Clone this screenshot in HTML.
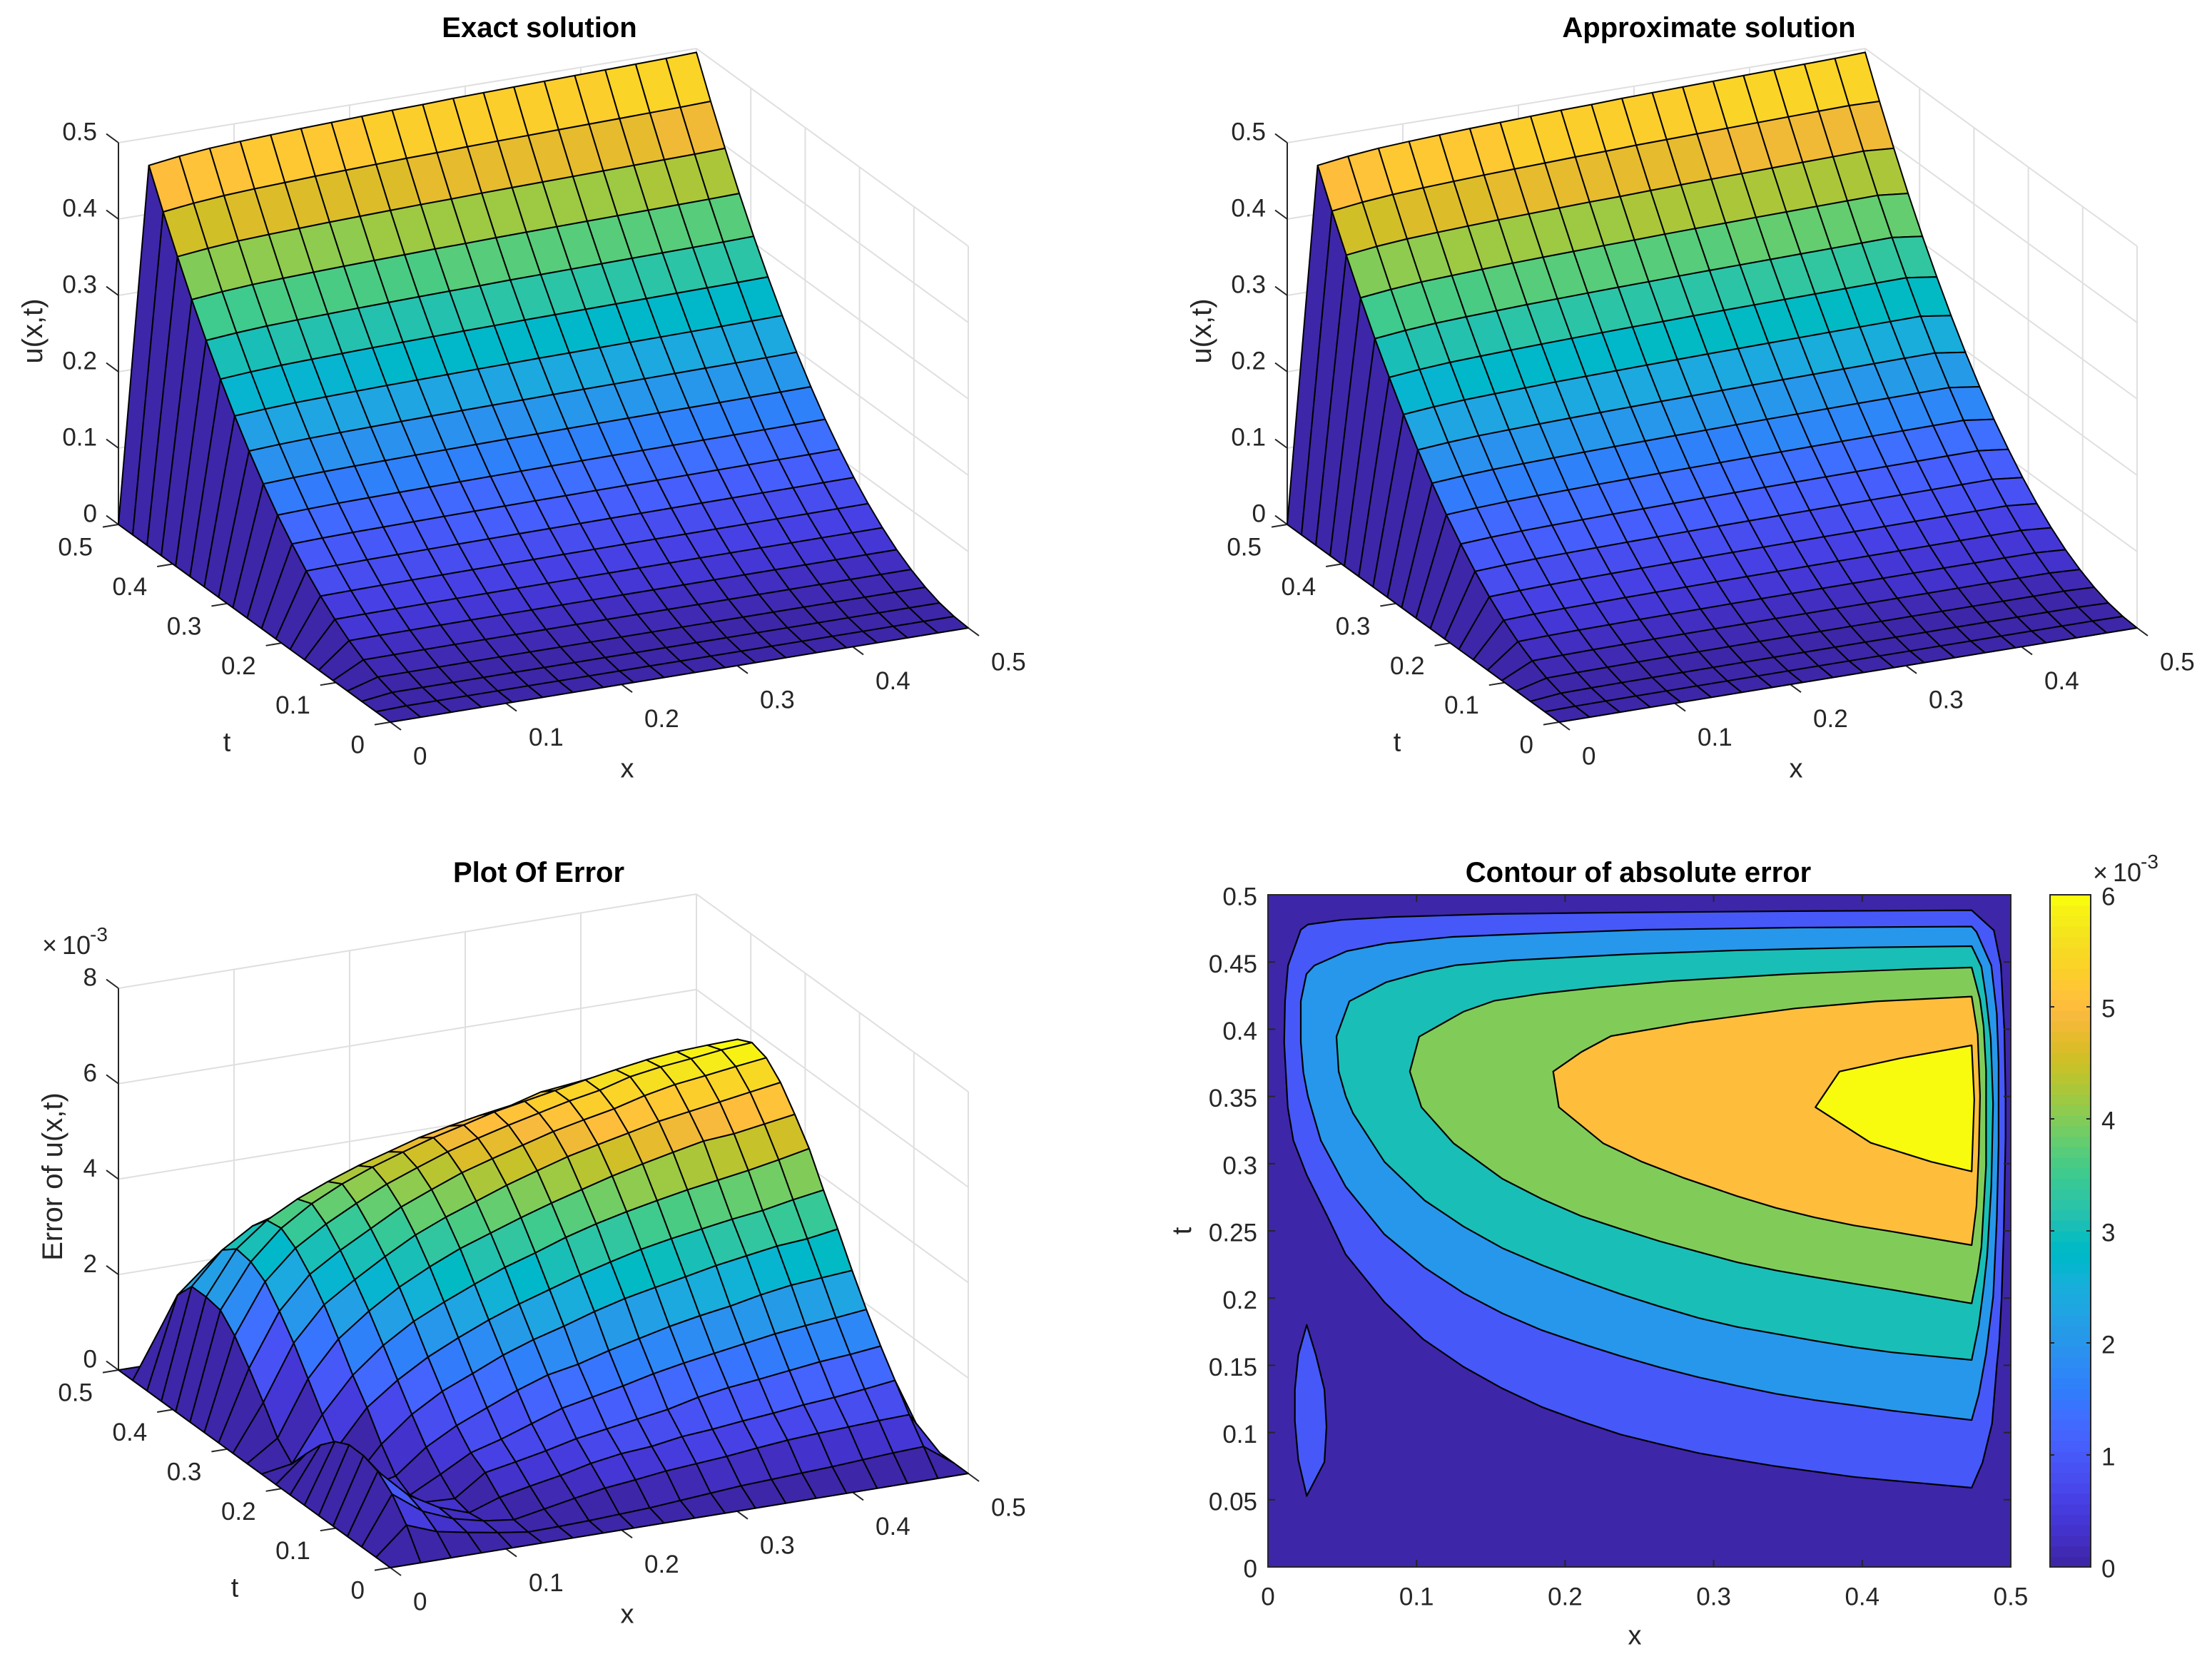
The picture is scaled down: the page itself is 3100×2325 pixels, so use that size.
<!DOCTYPE html>
<html lang="en">
<head>
<meta charset="utf-8">
<title>Exact and approximate solution with error plots</title>
<style>
html,body{margin:0;padding:0;background:#fff;}
svg{display:block;}
text{font-family:"Liberation Sans",Arial,sans-serif;fill:#262626;}
</style>
</head>
<body>
<svg id="figure" xmlns="http://www.w3.org/2000/svg" width="3100" height="2325" viewBox="0 0 3100 2325"></svg>
<script>
// Mesh coordinates
const gridX = [0,0.0263,0.0526,0.0789,0.1053,0.1316,0.1579,0.1842,0.2105,0.2368,0.2632,0.2895,0.3158,0.3421,0.3684,0.3947,0.4211,0.4474,0.4737,0.5];
const gridT = [0,0.0263,0.0526,0.0789,0.1053,0.1316,0.1579,0.1842,0.2105,0.2368,0.2632,0.2895,0.3158,0.3421,0.3684,0.3947,0.4211,0.4474,0.4737,0.5];

// Exact solution, read along the x=0.5 edge for each t, and the relative profile across x
const exactAtRightEdge = [0,0.0014,0.0055,0.0124,0.022,0.0343,0.0495,0.0674,0.088,0.1113,0.137,0.166,0.1975,0.232,0.269,0.3085,0.351,0.3965,0.4445,0.495];
const exactXProfile = [0,0.937,0.948,0.956,0.961,0.965,0.969,0.972,0.975,0.978,0.98,0.983,0.985,0.987,0.989,0.991,0.993,0.995,0.997,1];

// Absolute error (units of 1e-3); one row per x index, values along t
const errorColumns = [
[0,0,0,0,0,0,0,0,0,0,0,0,0,0,0,0,0,0,0,0],
[0,.57,1.0,1.26,1.37,1.38,1.23,.94,.54,.11,.43,.96,1.46,1.92,2.24,2.3,2.3,1.9,1.1,0],
[0,.33,.54,.66,.6,.4,.15,.05,.55,1.04,1.57,2.1,2.55,2.95,3.15,3.2,2.96,2.45,1.3,0],
[0,.21,.28,.3,.19,.12,.3,.75,1.3,1.76,2.3,2.8,3.22,3.55,3.75,3.7,3.36,2.6,1.4,0],
[0,.1,.13,.08,.16,.45,.8,1.27,1.77,2.28,2.78,3.22,3.62,3.95,4.16,4.04,3.55,2.7,1.45,0],
[0,.01,.05,.3,.6,.8,1.15,1.65,2.15,2.68,3.18,3.6,3.97,4.28,4.47,4.3,3.85,3.0,1.55,0],
[0,.02,.17,.43,.72,.98,1.42,1.92,2.45,2.98,3.5,3.95,4.32,4.58,4.72,4.53,4.0,3.08,1.6,0],
[0,.04,.29,.55,.85,1.2,1.68,2.2,2.72,3.25,3.78,4.22,4.58,4.82,4.93,4.72,4.2,3.15,1.65,0],
[0,.07,.4,.7,1.0,1.42,1.9,2.42,2.95,3.5,4.0,4.45,4.83,5.05,5.13,4.91,4.3,3.2,1.7,0],
[0,.1,.47,.8,1.1,1.55,2.02,2.6,3.15,3.7,4.22,4.68,5.02,5.23,5.29,5.05,4.35,3.27,1.75,0],
[0,.15,.55,.85,1.2,1.68,2.2,2.8,3.35,3.92,4.42,4.88,5.2,5.4,5.46,5.17,4.45,3.3,1.85,0],
[0,.2,.6,.95,1.3,1.83,2.35,2.97,3.52,4.1,4.6,5.07,5.38,5.55,5.58,5.27,4.6,3.4,1.95,0],
[0,.25,.65,1.0,1.45,1.95,2.5,3.1,3.68,4.25,4.78,5.22,5.52,5.7,5.7,5.45,4.75,3.6,2.0,0],
[0,.28,.72,1.07,1.55,2.05,2.62,3.22,3.8,4.38,4.93,5.36,5.65,5.82,5.82,5.52,4.82,3.7,2.05,0],
[0,.31,.78,1.13,1.62,2.15,2.72,3.35,3.9,4.5,5.07,5.5,5.82,6.0,5.93,5.6,4.92,3.78,2.07,0],
[0,.34,.82,1.2,1.7,2.25,2.85,3.45,4.0,4.6,5.2,5.6,5.95,6.1,6.03,5.7,4.98,3.85,2.1,0],
[0,.38,.85,1.25,1.78,2.32,2.95,3.55,4.08,4.7,5.25,5.7,6.03,6.17,6.1,5.75,5.0,3.9,2.12,0],
[0,.42,.88,1.32,1.83,2.38,3.0,3.6,4.2,4.82,5.35,5.8,6.12,6.25,6.13,5.8,5.03,3.95,2.13,0],
[0,.45,.9,1.4,1.9,2.45,3.05,3.7,4.3,4.95,5.45,5.9,6.2,6.3,6.15,5.85,5.1,4.05,2.15,0],
[0,0,0,0,0,0,0,0,0,0,0,0,0,0,0,0,0,0,0,0]
];
// t index below which the approximate solution lies under the exact one, per x index
const errorSignChange = [0,9.5,7,5,3,1.5,0,0,0,0,0,0,0,0,0,0,0,0,0,0];

// Tick values
const xTicks = [0,0.1,0.2,0.3,0.4,0.5];
const tTicks = [0,0.1,0.2,0.3,0.4,0.5];
const uTicks = [0,0.1,0.2,0.3,0.4,0.5];
const errTicks = [0,2,4,6,8];
const contourTTicks = [0,0.05,0.1,0.15,0.2,0.25,0.3,0.35,0.4,0.45,0.5];
const colorbarTicks = [0,1,2,3,4,5,6];

// Filled contour outlines as [x,t] data pairs, and their levels (1e-3)
const contourLevels = [1,1,2,3,4,5,6];
const contourNames = ['level-1-region','level-1-island','level-2-region','level-3-region','level-4-region','level-5-region','level-6-region'];
const contourRegions = [
[[.4737,.4885],[.3453,.4878],[.2229,.4867],[.1527,.4857],[.0826,.4835],[.0495,.4813],[.0269,.4779],[.0221,.474],[.0135,.4474],[.0115,.4208],[.0109,.39],[.0133,.342],[.0171,.3172],[.0261,.2916],[.0404,.26],[.0523,.2325],[.0784,.197],[.1045,.1694],[.1316,.1489],[.1577,.1328],[.1843,.119],[.2104,.1084],[.2375,.0985],[.2636,.0914],[.2898,.0847],[.3159,.0796],[.342,.0749],[.3681,.0709],[.3943,.067],[.4204,.0642],[.4737,.0589],[.481,.0776],[.4874,.1067],[.4906,.1497],[.4922,.1677],[.4938,.1996],[.4953,.25],[.4965,.3201],[.4965,.3506],[.4957,.399],[.4933,.448],[.4886,.4735]],
[[.0261,.1801],[.0323,.1576],[.038,.132],[.0394,.1044],[.038,.078],[.0261,.0528],[.0204,.0796],[.0181,.1084],[.0181,.132],[.0204,.1576]],
[[.4737,.4764],[.3535,.4756],[.2531,.474],[.1705,.4708],[.1239,.4687],[.0797,.4639],[.0531,.4581],[.0312,.4474],[.0259,.4411],[.0221,.4208],[.0221,.3906],[.0238,.3678],[.0269,.35],[.0356,.3172],[.0523,.2829],[.0784,.2474],[.1055,.2226],[.1316,.2037],[.1577,.1887],[.1843,.1761],[.2104,.1663],[.2375,.1568],[.2636,.1485],[.2898,.1411],[.3159,.1347],[.342,.1288],[.3681,.1241],[.3943,.1202],[.4204,.1162],[.4737,.1093],[.4785,.1285],[.4834,.1587],[.4882,.2013],[.4906,.2591],[.4918,.314],[.4918,.3749],[.4906,.4115],[.4869,.4475],[.4769,.4724]],
[[.4737,.4618],[.3965,.4607],[.3169,.4587],[.2452,.4559],[.1638,.4512],[.1263,.4476],[.105,.4428],[.0795,.4349],[.0548,.4208],[.0461,.3945],[.0476,.3685],[.0524,.35],[.0572,.3376],[.0784,.3014],[.1055,.2726],[.1316,.2533],[.1577,.2372],[.1843,.2246],[.2104,.2135],[.2375,.2029],[.2636,.1938],[.2898,.1852],[.3159,.1785],[.342,.1734],[.3681,.1682],[.3943,.1635],[.4204,.1596],[.4737,.154],[.4785,.18],[.4817,.2074],[.4841,.2317],[.4869,.2834],[.4881,.3445],[.4865,.3933],[.4834,.4237],[.4802,.4466]],
[[.4737,.4459],[.4316,.4446],[.3519,.4411],[.2707,.4358],[.2213,.431],[.183,.4264],[.1522,.4211],[.1315,.413],[.1018,.3945],[.0955,.3685],[.1033,.342],[.1249,.3152],[.1577,.2888],[.1843,.2738],[.2104,.2612],[.2375,.2514],[.2636,.2423],[.2898,.2344],[.3159,.2266],[.342,.2206],[.3681,.2155],[.3943,.2108],[.4204,.2061],[.4737,.196],[.4778,.2195],[.4802,.2378],[.4834,.2988],[.4834,.3689],[.4817,.4023],[.4793,.4222]],
[[.4737,.4243],[.4092,.4207],[.3551,.4155],[.285,.4052],[.2309,.3949],[.2111,.3832],[.192,.3685],[.1958,.342],[.2256,.3152],[.2518,.3014],[.2793,.2896],[.3159,.2758],[.342,.2671],[.3681,.26],[.3943,.2541],[.4204,.2494],[.4737,.2394],[.4769,.2683],[.4785,.3079],[.4793,.3506],[.4777,.3963]],
[[.4737,.388],[.4251,.3783],[.3847,.3685],[.3685,.342],[.4057,.3155],[.4465,.3014],[.4737,.2942],[.4754,.3477]]
];

// Parula colormap
const parula = [
[.2422,.1504,.6603],[.2504,.165,.7076],[.2578,.1818,.7511],[.2647,.1978,.7952],[.2706,.2147,.8364],[.2751,.2342,.871],[.2783,.2559,.8991],[.2803,.2782,.9221],
[.2813,.3006,.9414],[.281,.3228,.9579],[.2795,.3447,.9717],[.276,.3667,.9829],[.2699,.3892,.9906],[.2602,.4123,.9952],[.244,.4358,.9988],[.2206,.4603,.9973],
[.1963,.4847,.9892],[.1834,.5074,.9798],[.1786,.5289,.9682],[.1764,.5499,.952],[.1687,.5703,.9359],[.154,.5902,.9218],[.146,.6091,.9079],[.138,.6276,.8973],
[.1248,.6459,.8883],[.1113,.6635,.8763],[.0952,.6798,.8598],[.0689,.6948,.8394],[.0297,.7082,.8163],[.0036,.7203,.7917],[.0067,.7312,.766],[.0433,.7411,.7394],
[.0964,.75,.712],[.1408,.7584,.6842],[.1717,.767,.6554],[.1938,.7758,.6251],[.2161,.7843,.5923],[.247,.7918,.5567],[.2906,.7973,.5188],[.3406,.8008,.4789],
[.3909,.8029,.4354],[.4456,.8024,.3909],[.5044,.7993,.348],[.5616,.7942,.3045],[.6174,.7876,.2612],[.672,.7793,.2227],[.7242,.7698,.191],[.7738,.7598,.1646],
[.8203,.7498,.1535],[.8634,.7406,.1596],[.9035,.733,.1774],[.9393,.7288,.21],[.9728,.7298,.2394],[.9956,.7434,.2371],[.997,.7659,.2199],[.9952,.7861,.199],
[.9892,.8081,.1717],[.9786,.8297,.1535],[.9676,.8515,.1393],[.961,.8742,.1267],[.9597,.8992,.1149],[.9628,.9255,.097],[.9691,.9495,.0743],[.9763,.9831,.0538]
];

const svg = document.getElementById('figure');
const NS = 'http://www.w3.org/2000/svg';
const DARK = '#262626';
const GRID = '#dfdfdf';

function node(parent, tag, attrs) {
  const el = document.createElementNS(NS, tag);
  for (const k in attrs) el.setAttribute(k, attrs[k]);
  parent.appendChild(el);
  return el;
}
function colorFor(value, limit) {
  let k = Math.floor(value / limit * parula.length);
  if (k < 0) k = 0;
  if (k > parula.length - 1) k = parula.length - 1;
  const c = parula[k];
  return 'rgb(' + Math.round(c[0]*255) + ',' + Math.round(c[1]*255) + ',' + Math.round(c[2]*255) + ')';
}
function label(parent, str, x, cy, size, anchor, name) {
  const t = node(parent, 'text', {x: x, y: cy + size * 0.36, 'font-size': size, 'text-anchor': anchor});
  t.textContent = str;
  
  
  return t;
}
function exponent(parent, x, y, name) {
  const t = node(parent, 'text', {y: y, 'font-size': 36});
  const m = node(t, 'tspan', {x: x});
  m.textContent = '\u00d7';
  const a = node(t, 'tspan', {x: x + 28});
  a.textContent = '10';
  const b = node(t, 'tspan', {x: x + 67, dy: -18, 'font-size': 28});
  b.textContent = '-3';
  
  
}

// Data grids: grid[i][j] for x index i and t index j
const exactGrid = gridX.map((_, i) => gridT.map((_, j) => exactAtRightEdge[j] * exactXProfile[i]));
const errorGrid = errorColumns.map(col => col.map(v => v * 1e-3));
const approxGrid = exactGrid.map((col, i) => col.map((v, j) => v + (j < errorSignChange[i] ? -1 : 1) * errorGrid[i][j]));

function drawSurfacePanel(cfg) {
  const g = node(svg, 'g', {});
  
  
  const P = (x, t, z) => [
    cfg.ox + x / 0.5 * 810 - t / 0.5 * 381,
    cfg.oy - x / 0.5 * 132 - t / 0.5 * 277 - z / cfg.zMax * 535
  ];
  const line = (a, b, color, w, name) => {
    const l = node(g, 'line', {x1: a[0], y1: a[1], x2: b[0], y2: b[1], stroke: color, 'stroke-width': w});
    
    
  };
  const zTop = cfg.zMax;
  // Grid on floor and walls
  xTicks.forEach(x => {
    line(P(x,0,0), P(x,.5,0), GRID, 2, 'floor-grid-x');
    line(P(x,.5,0), P(x,.5,zTop), GRID, 2, 'back-wall-grid-x');
  });
  tTicks.forEach(t => {
    line(P(0,t,0), P(.5,t,0), GRID, 2, 'floor-grid-t');
    line(P(.5,t,0), P(.5,t,zTop), GRID, 2, 'side-wall-grid-t');
  });
  cfg.zTicks.forEach(z => {
    const zv = z * cfg.zUnit;
    line(P(0,.5,zv), P(.5,.5,zv), GRID, 2, 'back-wall-grid-z');
    line(P(.5,.5,zv), P(.5,0,zv), GRID, 2, 'side-wall-grid-z');
  });
  // Axes and ticks
  line(P(0,.5,0), P(0,.5,zTop), DARK, 2, 'z-axis-line');
  line(P(0,0,0), P(.5,0,0), DARK, 2, 'x-axis-line');
  line(P(0,0,0), P(0,.5,0), DARK, 2, 't-axis-line');
  xTicks.forEach(x => {
    const a = P(x,0,0);
    line(a, [a[0] + 15, a[1] + 11], DARK, 2, 'x-tick');
    label(g, String(x), a[0] + 32, a[1] + 47, 35, 'start', 'x-tick-label');
  });
  tTicks.forEach(t => {
    const a = P(0,t,0);
    line(a, [a[0] - 22, a[1] + 3.6], DARK, 2, 't-tick');
    label(g, String(t), a[0] - 36, a[1] + 31, 35, 'end', 't-tick-label');
  });
  cfg.zTicks.forEach(z => {
    const a = P(0,.5,z * cfg.zUnit);
    line(a, [a[0] - 17, a[1] - 12.4], DARK, 2, 'z-tick');
    label(g, String(z), a[0] - 30, a[1] - 16, 35, 'end', 'z-tick-label');
  });
  // Surface faces, back to front; flat colour from the lowest-index vertex
  const surf = node(g, 'g', {});
  
  
  const grid = cfg.grid;
  let limit = 0;
  grid.forEach(col => col.forEach(v => { if (v > limit) limit = v; }));
  for (let j = gridT.length - 2; j >= 0; j--) {
    for (let i = gridX.length - 2; i >= 0; i--) {
      const pts = [
        P(gridX[i], gridT[j], grid[i][j]),
        P(gridX[i+1], gridT[j], grid[i+1][j]),
        P(gridX[i+1], gridT[j+1], grid[i+1][j+1]),
        P(gridX[i], gridT[j+1], grid[i][j+1])
      ];
      const face = node(surf, 'polygon', {
        points: pts.map(p => p[0].toFixed(1) + ',' + p[1].toFixed(1)).join(' '),
        fill: colorFor(grid[i][j], limit),
        stroke: '#000',
        'stroke-width': 2,
        'stroke-linejoin': 'round'
      });
      
      
    }
  }
  // Titles and axis labels
  const title = node(g, 'text', {x: cfg.titleX, y: cfg.titleY, 'font-size': 40, 'font-weight': 'bold', 'text-anchor': 'middle', style: 'fill:#000'});
  title.textContent = cfg.title;
  
  
  label(g, 'x', cfg.ox + 332, cfg.oy + 64, 38, 'middle', 'x-axis-title');
  label(g, 't', cfg.tLabelX, cfg.oy + 27, 38, 'middle', 't-axis-title');
  const zl = node(g, 'text', {'font-size': 40, 'text-anchor': 'middle', transform: 'translate(' + cfg.zLabelX + ',' + cfg.zLabelY + ') rotate(-90)'});
  zl.textContent = cfg.zLabel;
  
  
  if (cfg.hasExponent) exponent(g, 59, 1337, 'z-axis-exponent');
}

drawSurfacePanel({name:'exact-solution-panel', title:'Exact solution', titleX:756, titleY:52, ox:547, oy:1012, zMax:.5, zUnit:1, zTicks:uTicks, grid:exactGrid, zLabel:'u(x,t)', zLabelX:59, zLabelY:464, tLabelX:318});
drawSurfacePanel({name:'approximate-solution-panel', title:'Approximate solution', titleX:2395, titleY:52, ox:2185, oy:1012, zMax:.5, zUnit:1, zTicks:uTicks, grid:approxGrid, zLabel:'u(x,t)', zLabelX:1697, zLabelY:464, tLabelX:1958});
drawSurfacePanel({name:'error-surface-panel', title:'Plot Of Error', titleX:755, titleY:1236, ox:547, oy:2197, zMax:.008, zUnit:1e-3, zTicks:errTicks, grid:errorGrid, zLabel:'Error of u(x,t)', zLabelX:87, zLabelY:1649, tLabelX:329, hasExponent:true});

// Contour panel
(function () {
  const L = 1777, R = 2818, T = 1254, B = 2196;
  const sx = x => L + x / 0.5 * (R - L);
  const sy = t => B - t / 0.5 * (B - T);
  const cLimit = 6;
  const g = node(svg, 'g', {});
  
  
  const bg = node(g, 'rect', {x: L, y: T, width: R - L, height: B - T, fill: colorFor(0, cLimit)});
  
  
  contourRegions.forEach((region, k) => {
    const poly = node(g, 'polygon', {
      points: region.map(p => sx(p[0]).toFixed(1) + ',' + sy(p[1]).toFixed(1)).join(' '),
      fill: colorFor(contourLevels[k], cLimit),
      stroke: '#000',
      'stroke-width': 2.2,
      'stroke-linejoin': 'round'
    });
    
    
  });
  const tick = (x1, y1, x2, y2, name) => {
    const l = node(g, 'line', {x1: x1, y1: y1, x2: x2, y2: y2, stroke: DARK, 'stroke-width': 2});
    
    
  };
  xTicks.forEach(x => {
    tick(sx(x), B, sx(x), B - 10, 'x-tick');
    tick(sx(x), T, sx(x), T + 10, 'x-tick-top');
    label(g, String(x), sx(x), 2237, 35, 'middle', 'x-tick-label');
  });
  contourTTicks.forEach(t => {
    tick(L, sy(t), L + 10, sy(t), 't-tick');
    tick(R, sy(t), R - 10, sy(t), 't-tick-right');
    label(g, String(t), 1762, sy(t) + 2, 35, 'end', 't-tick-label');
  });
  const box = node(g, 'rect', {x: L, y: T, width: R - L, height: B - T, fill: 'none', stroke: DARK, 'stroke-width': 2});
  
  
  const title = node(g, 'text', {x: 2296, y: 1236, 'font-size': 40, 'font-weight': 'bold', 'text-anchor': 'middle', style: 'fill:#000'});
  title.textContent = 'Contour of absolute error';
  
  
  label(g, 'x', 2291, 2291, 38, 'middle', 'x-axis-title');
  const tl = node(g, 'text', {'font-size': 38, 'text-anchor': 'middle', transform: 'translate(1669,1725) rotate(-90)'});
  tl.textContent = 't';
  
  

  // Colorbar
  const CL = 2873, CR = 2930;
  const cy = v => B - v / 6 * (B - T);
  const bar = node(g, 'g', {});
  
  
  const step = (B - T) / parula.length;
  parula.forEach((c, k) => {
    const r = node(bar, 'rect', {
      x: CL, y: B - (k + 1) * step, width: CR - CL, height: step + 0.6,
      fill: 'rgb(' + Math.round(c[0]*255) + ',' + Math.round(c[1]*255) + ',' + Math.round(c[2]*255) + ')'
    });
    
    
  });
  colorbarTicks.forEach(v => {
    tick(CL, cy(v), CL + 6, cy(v), 'colorbar-tick');
    tick(CR, cy(v), CR - 6, cy(v), 'colorbar-tick-right');
    label(g, String(v), 2945, cy(v) + 2, 35, 'start', 'colorbar-tick-label');
  });
  const cbox = node(g, 'rect', {x: CL, y: T, width: CR - CL, height: B - T, fill: 'none', stroke: DARK, 'stroke-width': 2});
  
  
  exponent(g, 2933, 1235, 'colorbar-exponent');
})();
</script>
</body>
</html>
